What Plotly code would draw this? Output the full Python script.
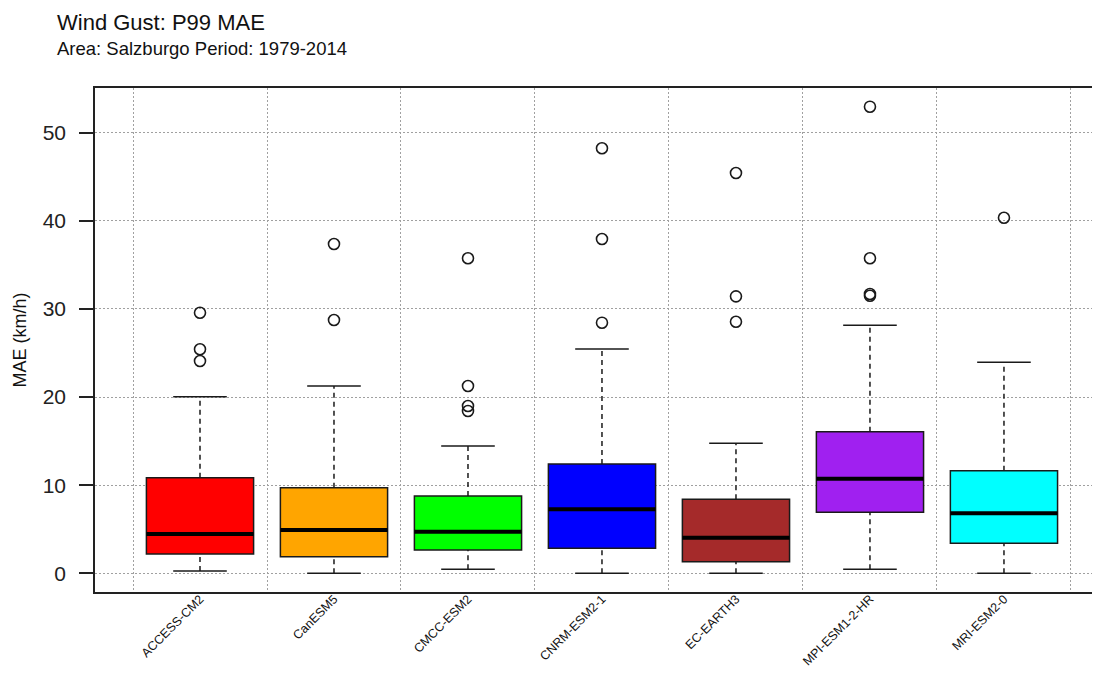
import plotly.graph_objects as go

models = ["ACCESS-CM2", "CanESM5", "CMCC-ESM2", "CNRM-ESM2-1", "EC-EARTH3", "MPI-ESM1-2-HR", "MRI-ESM2-0"]
colors = ["#FF0000", "#FFA500", "#00FF00", "#0000FF", "#A52A2A", "#A020F0", "#00FFFF"]
lower_whisker = [0.26, 0.0, 0.45, 0.0, 0.0, 0.45, 0.0]
q1 = [2.19, 1.88, 2.64, 2.84, 1.32, 6.92, 3.40]
median = [4.46, 4.91, 4.72, 7.26, 4.04, 10.74, 6.81]
q3 = [10.85, 9.71, 8.77, 12.40, 8.40, 16.07, 11.64]
upper_whisker = [20.04, 21.26, 14.45, 25.45, 14.75, 28.14, 23.94]
outliers = [
    [29.57, 25.42, 24.09],
    [37.37, 28.74],
    [35.75, 21.26, 18.99, 18.42],
    [48.23, 37.94, 28.44],
    [45.43, 31.43, 28.55],
    [52.95, 35.75, 31.70, 31.50],
    [40.35],
]
y_ticks = [0, 10, 20, 30, 40, 50]
title = "Wind Gust: P99 MAE"
subtitle = "Area: Salzburgo Period: 1979-2014"

pos = list(range(1, len(models) + 1))
box_w = 0.8
cap_w = 0.4

fig = go.Figure()

# boxes
fig.add_trace(go.Bar(
    x=pos, base=q1, y=[b - a for a, b in zip(q1, q3)], width=box_w,
    marker=dict(color=colors, line=dict(color="#1a1a1a", width=1.5)),
    showlegend=False, hoverinfo="skip",
))

# whiskers (dashed)
wx, wy = [], []
for p, a, b, c, d in zip(pos, lower_whisker, q1, q3, upper_whisker):
    wx += [p, p, None, p, p, None]
    wy += [a, b, None, c, d, None]
fig.add_trace(go.Scatter(x=wx, y=wy, mode="lines",
                         line=dict(color="#1a1a1a", width=1.5, dash="5px,4px"),
                         showlegend=False, hoverinfo="skip"))

# caps
cx, cy = [], []
for p, a, d in zip(pos, lower_whisker, upper_whisker):
    cx += [p - cap_w / 2, p + cap_w / 2, None, p - cap_w / 2, p + cap_w / 2, None]
    cy += [a, a, None, d, d, None]
fig.add_trace(go.Scatter(x=cx, y=cy, mode="lines",
                         line=dict(color="#1a1a1a", width=1.5),
                         showlegend=False, hoverinfo="skip"))

# medians
mx, my = [], []
for p, m in zip(pos, median):
    mx += [p - box_w / 2, p + box_w / 2, None]
    my += [m, m, None]
fig.add_trace(go.Scatter(x=mx, y=my, mode="lines",
                         line=dict(color="black", width=4),
                         showlegend=False, hoverinfo="skip"))

# outliers
ox, oy = [], []
for p, vals in zip(pos, outliers):
    for v in vals:
        ox.append(p)
        oy.append(v)
fig.add_trace(go.Scatter(x=ox, y=oy, mode="markers",
                         marker=dict(symbol="circle-open", size=11, color="#1a1a1a",
                                     line=dict(width=1.6, color="#1a1a1a")),
                         showlegend=False, hoverinfo="skip"))

fig.update_layout(
    width=1084, height=659,
    margin=dict(l=87, r=0, t=80, b=75, autoexpand=False),
    paper_bgcolor="white", plot_bgcolor="white",
    font=dict(family="Liberation Sans, Arial, sans-serif", color="black"),
    barmode="overlay",
    showlegend=False,
    xaxis=dict(
        range=[0.2164, 7.657], automargin=False,
        tickmode="array", tickvals=pos, ticktext=models, tickangle=-45,
        tickfont=dict(size=12.5, color="#111111"),
        ticklabelstandoff=-7,
        ticks="", showgrid=False, zeroline=False,
        showline=True, mirror=True, linecolor="#222222", linewidth=1.6,
        minor=dict(tickmode="linear", tick0=0.5, dtick=1, showgrid=True,
                   gridcolor="#a0a0a0", griddash="2px,2px", gridwidth=1, ticks=""),
    ),
    yaxis=dict(
        range=[-2.12, 55.07], automargin=False,
        tickmode="array", tickvals=y_ticks,
        tickfont=dict(size=21, color="#222222"),
        ticks="outside", ticklen=14, tickwidth=1.5, tickcolor="#222222",
        ticklabelstandoff=9,
        showgrid=True, gridcolor="#a0a0a0", griddash="2px,2px", gridwidth=1,
        zeroline=False,
        showline=True, mirror=False, linecolor="#222222", linewidth=1.6,
        title=dict(text="MAE (km/h)", font=dict(size=18, color="#111111"), standoff=11),
    ),
    annotations=[
        dict(text=title, xref="paper", yref="paper", x=-0.0401, y=1.1298,
             xanchor="left", yanchor="middle", showarrow=False,
             font=dict(size=22, color="#111111")),
        dict(text=subtitle, xref="paper", yref="paper", x=-0.0401, y=1.0784,
             xanchor="left", yanchor="middle", showarrow=False,
             font=dict(size=18.5, color="#111111")),
    ],
)

fig.write_html("out.html")
